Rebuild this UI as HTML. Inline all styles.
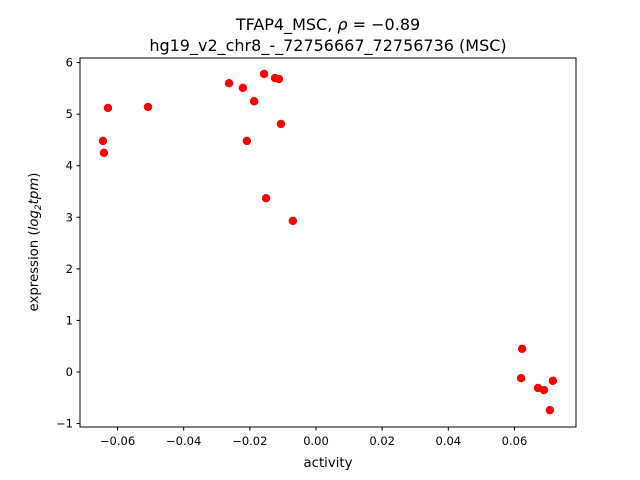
<!DOCTYPE html>
<html><head><meta charset="utf-8"><style>body{margin:0;background:#fff}svg{display:block;font-family:"DejaVu Sans","Liberation Sans",sans-serif}</style></head>
<body>
<svg id="chart" width="640" height="480">
<rect width="640" height="480" fill="#fff"/>
<text x="328" y="30" text-anchor="middle" font-size="16">TFAP4_MSC, <tspan font-style="italic">ρ</tspan> = −0.89</text>
<text x="328" y="51" text-anchor="middle" font-size="16">hg19_v2_chr8_-_72756667_72756736 (MSC)</text>
<g id="ticks"></g>
<g id="points"></g>
<rect x="80" y="58" width="496" height="369" fill="none" stroke="#000" stroke-width="1"/>
<text x="328" y="467" text-anchor="middle" font-size="13.3">activity</text>
<text transform="translate(38,242) rotate(-90)" text-anchor="middle" font-size="13.3">expression (<tspan font-style="italic">log</tspan><tspan font-style="italic" font-size="9" dy="3">2</tspan><tspan font-style="italic" dy="-3">tpm</tspan>)</text>
</svg>
<script>
const xVals=[-0.0644,-0.0641,-0.0629,-0.0508,-0.0263,-0.0221,-0.0209,-0.0187,-0.0157,-0.0151,-0.0124,-0.0112,-0.0106,-0.0070,0.0623,0.0620,0.0671,0.0689,0.0716,0.0707];
const yVals=[4.48,4.25,5.12,5.14,5.60,5.51,4.48,5.25,5.78,3.37,5.70,5.68,4.81,2.93,0.45,-0.12,-0.31,-0.35,-0.17,-0.74];
const xTicks=[-0.06,-0.04,-0.02,0.00,0.02,0.04,0.06];
const xTickLabels=["−0.06","−0.04","−0.02","0.00","0.02","0.04","0.06"];
const yTicks=[-1,0,1,2,3,4,5,6];
const yTickLabels=["−1","0","1","2","3","4","5","6"];
const sx=v=>316+v*3308;
const sy=v=>372-v*51.57;
const NS="http://www.w3.org/2000/svg";
const tg=document.getElementById('ticks'), pg=document.getElementById('points');
function mk(tag,attrs,parent){const e=document.createElementNS(NS,tag);for(const k in attrs)e.setAttribute(k,attrs[k]);parent.appendChild(e);return e;}
xTicks.forEach((t,i)=>{const x=sx(t);
 const l=mk('line',{x1:x,x2:x,y1:427,y2:430.5,stroke:'#000'},tg);
 
 
 const tx=mk('text',{x:x,y:445,'text-anchor':'middle','font-size':'11.5'},tg);tx.textContent=xTickLabels[i];
 
 
});
yTicks.forEach((t,i)=>{const y=sy(t);
 const l=mk('line',{x1:76.5,x2:80,y1:y,y2:y,stroke:'#000'},tg);
 
 
 const tx=mk('text',{x:73,y:y+4,'text-anchor':'end','font-size':'11.5'},tg);tx.textContent=yTickLabels[i];
 
 
});
xVals.forEach((v,i)=>{
 const c=mk('circle',{cx:sx(v),cy:sy(yVals[i]),r:4.2,fill:'#ff0000'},pg);
 
 
});
</script>
</body></html>
